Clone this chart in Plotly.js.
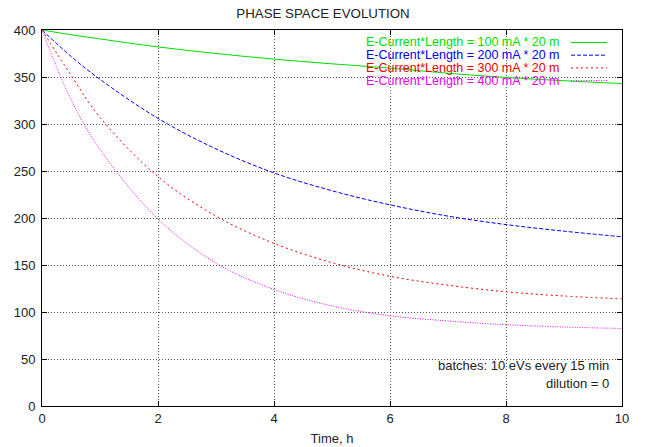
<!DOCTYPE html>
<html>
<head>
<meta charset="utf-8">
<script src="https://cdn.plot.ly/plotly-3.0.1.min.js"></script>
<style>html,body{margin:0;padding:0;background:#fff;}#chart{width:646px;height:447px;}</style>
</head>
<body>
<div id="chart"></div>
<script>
// Time, h
const time = [0, 0.5, 1, 2, 3, 4, 5, 6, 7, 8, 9, 10];
// Phase space values per E-Current*Length
const ecl100 = [400, 395, 390.5, 382, 375, 369, 364, 359.5, 354, 349.5, 346, 343];
const ecl200 = [400, 372, 347.5, 306, 273.5, 248, 229, 214, 202, 193, 186, 180];
const ecl300 = [400, 352, 307, 244, 202, 173, 152.5, 138, 128.5, 121.5, 117, 114];
const ecl400 = [400, 326, 273, 199, 152, 124, 106.5, 96, 90.5, 86.5, 84, 82.5];
const seriesNames = [
  "E-Current*Length = 100 mA * 20 m",
  "E-Current*Length = 200 mA * 20 m",
  "E-Current*Length = 300 mA * 20 m",
  "E-Current*Length = 400 mA * 20 m"
];
const xTicks = [0, 2, 4, 6, 8, 10];
const yTicks = [0, 50, 100, 150, 200, 250, 300, 350, 400];

const colors = ["#00dd00", "#0000ee", "#ee0000", "#ee00ee"];
const dashes = ["solid", "4px,2px", "2px,3px", "1px,1.5px"];
const allY = [ecl100, ecl200, ecl300, ecl400];

const traces = allY.map((ys, i) => ({
  x: time, y: ys, type: "scatter", mode: "lines", name: seriesNames[i],
  line: {color: colors[i], width: 1, dash: dashes[i], shape: "spline", smoothing: 1},
  showlegend: false, hoverinfo: "skip"
}));

const fam = "Liberation Sans, Arial, sans-serif";
const font = {family: fam, size: 13, color: "#222"};

// legend built as text + line samples (gnuplot style: sample right of text)
const legendTop = 42.5, legendStep = 12.7;
const annotations = seriesNames.map((n, i) => ({
  xref: "paper", yref: "paper",
  x: (562 - 42) / 580, y: (406 - (legendTop + i * legendStep)) / 376,
  xanchor: "right", yanchor: "middle", showarrow: false,
  text: n, font: {family: fam, size: 12.5, color: colors[i]}
}));
annotations.push({
  xref: "paper", yref: "paper", x: (611 - 42) / 580, y: (406 - 365) / 376,
  xanchor: "right", yanchor: "middle", showarrow: false,
  text: "batches: 10 eVs every 15 min", font: font
});
annotations.push({
  xref: "paper", yref: "paper", x: (611 - 42) / 580, y: (406 - 383) / 376,
  xanchor: "right", yanchor: "middle", showarrow: false,
  text: "dilution = 0", font: font
});

const shapes = [{
  type: "rect", xref: "paper", yref: "paper", layer: "between",
  x0: (318 - 42) / 580, x1: (612 - 42) / 580, y0: (406 - 86) / 376, y1: (406 - 31.5) / 376,
  fillcolor: "#ffffff", line: {width: 0}
}];
seriesNames.forEach((n, i) => {
  const yy = (406 - (legendTop + i * legendStep)) / 376;
  shapes.push({
    type: "line", xref: "paper", yref: "paper",
    x0: (571 - 42) / 580, x1: (607 - 42) / 580, y0: yy, y1: yy,
    line: {color: colors[i], width: 1, dash: dashes[i]}
  });
});

const layout = {
  width: 646, height: 447,
  margin: {l: 42, r: 24, t: 30, b: 41},
  paper_bgcolor: "#ffffff", plot_bgcolor: "#ffffff",
  font: font,
  title: {text: "PHASE SPACE EVOLUTION", x: 0.5, xanchor: "center", y: 1 - 13 / 447, yanchor: "middle",
          font: {family: fam, size: 13.3, color: "#222"}},
  xaxis: {
    range: [0, 10], tickvals: xTicks, ticktext: xTicks.map(String),
    showline: true, linecolor: "#000", linewidth: 1, mirror: "ticks",
    ticks: "inside", ticklen: 5, tickcolor: "#000",
    showgrid: true, gridcolor: "#555", griddash: "1px,2px", gridwidth: 1,
    zeroline: false, tickfont: font,
    title: {text: "Time, h", font: font, standoff: 9}
  },
  yaxis: {
    range: [0, 400], tickvals: yTicks, ticktext: yTicks.map(String),
    showline: true, linecolor: "#000", linewidth: 1, mirror: "ticks",
    ticks: "inside", ticklen: 5, tickcolor: "#000",
    showgrid: true, gridcolor: "#555", griddash: "1px,2px", gridwidth: 1,
    zeroline: false, tickfont: font, ticklabelstandoff: 3
  },
  annotations: annotations,
  shapes: shapes,
  showlegend: false
};

Plotly.newPlot("chart", traces, layout, {displayModeBar: false, staticPlot: true});
</script>
</body>
</html>
